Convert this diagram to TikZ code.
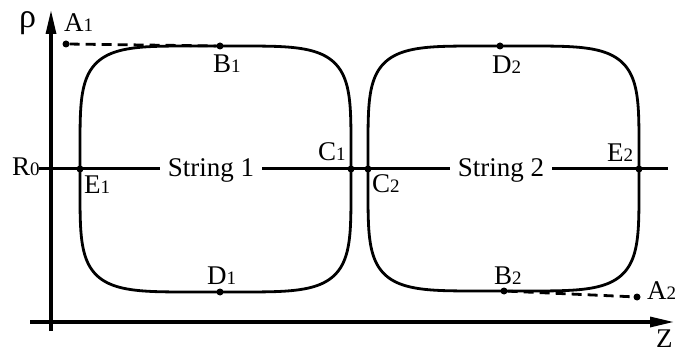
\documentclass[tikz,border=0pt]{standalone}
\usepackage{fontspec}
\setmainfont{Liberation Serif}
\usetikzlibrary{arrows.meta}
\newcommand\subdig[1]{{\fontsize{19}{20}\selectfont #1}}
\tikzset{
  dot/.style={circle,fill=black,inner sep=0pt,minimum size=7pt},
  lbl/.style={inner sep=0pt,anchor=base west,font=\fontsize{27}{30}\selectfont},
  strlbl/.style={inner xsep=8pt,inner ysep=0pt,anchor=base,font=\fontsize{27}{30}\selectfont},
  axisline/.style={line width=3.2pt,-{Triangle[length=24pt,width=10pt]}},
  rline/.style={line width=3pt},
  loopline/.style={line width=2.8pt,line join=round},
  dashline/.style={line width=2.8pt,dash pattern=on 10pt off 6pt},
}
\begin{document}
\begin{tikzpicture}[x=1pt,y=-1pt]
\useasboundingbox (0,0) rectangle (676,352);
% axes
\coordinate (yb) at (51,331);
\coordinate (yt) at (51,10);
\coordinate (xl) at (30,322);
\coordinate (xr) at (674,322);
\draw[axisline] (yb) -- (yt);
\draw[axisline] (xl) -- (xr);
\node[lbl,font=\fontsize{34}{36}\selectfont] (rho) at (19,28) {ρ};
\node[lbl] (Z) at (656,347) {Z};
% loops
\draw[loopline] plot[domain=0.5:360.5,samples=361]
  ({215.5+135.5*sign(cos(\x))*pow(abs(cos(\x)),0.4)},{169+123*sign(sin(\x))*pow(abs(sin(\x)),0.4)}) -- cycle;
\draw[loopline] plot[domain=0.5:360.5,samples=361]
  ({503.5+135.5*sign(cos(\x))*pow(abs(cos(\x)),0.4)},{168.5+122.5*sign(sin(\x))*pow(abs(sin(\x)),0.4)}) -- cycle;
% R0 line and string labels
\node[lbl] (R0) at (12,176) {R\subdig{0}};
\node[strlbl] (s1) at (211,177) {String 1};
\node[strlbl] (s2) at (501,177) {String 2};
\coordinate (L0) at (39,169);
\coordinate (L1) at (668,169);
\draw[rline] (L0) -- (s1.west |- L0);
\draw[rline] (s1.east |- L0) -- (s2.west |- L0);
\draw[rline] (s2.east |- L0) -- (L1);
% points
\node[dot] (A1) at (66,44) {};
\node[dot] (B1) at (220,46) {};
\node[dot] (D2) at (500,46) {};
\node[dot] (E1) at (80,169) {};
\node[dot] (C1) at (351,169) {};
\node[dot] (C2) at (368,169) {};
\node[dot] (E2) at (639,169) {};
\node[dot] (D1) at (220,292) {};
\node[dot] (B2) at (504,291) {};
\node[dot] (A2) at (637,297) {};
\draw[dashline] (A1) -- (B1);
\draw[dashline] (B2) -- (A2);
% labels
\node[lbl] (lA1) at (64,32) {A\subdig{1}};
\node[lbl] (lB1) at (213,73) {B\subdig{1}};
\node[lbl] (lD2) at (492,74) {D\subdig{2}};
\node[lbl] (lE1) at (84,194) {E\subdig{1}};
\node[lbl] (lC1) at (318,161) {C\subdig{1}};
\node[lbl] (lC2) at (372,193) {C\subdig{2}};
\node[lbl] (lE2) at (607,162) {E\subdig{2}};
\node[lbl] (lD1) at (207,284) {D\subdig{1}};
\node[lbl] (lB2) at (494,284) {B\subdig{2}};
\node[lbl] (lA2) at (647,299) {A\subdig{2}};
\end{tikzpicture}
\end{document}
